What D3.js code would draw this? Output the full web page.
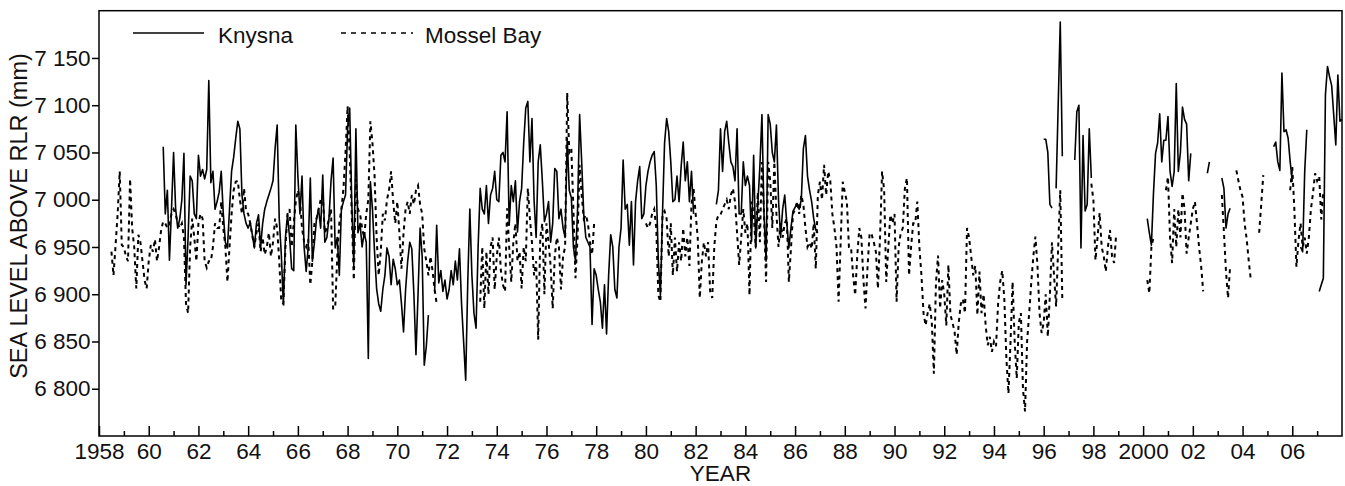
<!DOCTYPE html>
<html lang="en">
    <head>
        <meta charset="utf-8">
        <title>Sea level above RLR - Knysna and Mossel Bay</title>
        <script type="text/javascript" src="https://d3js.org/d3.v7.min.js"></script>
        <style type="text/css">
            body { margin: 0; background: #fff; }
            text { font-family: "Liberation Sans", Arial, sans-serif; fill: #111; }
        </style>
    </head>
    <body>
        <script type="text/javascript">

        //consts / layout
        const width = 1345;
        const height = 486;
        const plotLeft = 99, plotRight = 1342, plotTop = 10.7, plotBottom = 436;
        const fontSize = 22.5;

        //Data - monthly means (mm), one row of 12 months per year, null = no data
        const _ = null;
        const startYear = 1958;

        const knysna = [
            [_,_,_,_,_,_,_,_,_,_,_,_],                                         //1958
            [_,_,_,_,_,_,_,_,_,_,_,_],                                         //1959
            [_,_,_,_,_,_,_,7056,6985,7010,6936,6990],                          //1960
            [7050,6990,6970,6980,7000,7049,6910,6960,7025,7020,6985,6980],     //1961
            [7047,7025,7032,7022,7032,7126,7018,7030,6990,6998,7008,7030],     //1962
            [6985,6955,6949,6990,7030,7045,7065,7083,7075,7005,6985,6975],     //1963
            [6970,6976,6963,6949,6975,6984,6950,6975,6990,6998,7005,7012],     //1964
            [7020,7054,7079,6980,6942,6889,6960,6984,6960,6927,6925,7079],     //1965
            [7025,6985,7025,6950,6924,6950,7023,6935,6955,6980,6990,6970],     //1966
            [7026,6955,6960,6980,7020,7044,6949,6960,6920,6990,6998,7005],     //1967
            [7075,7097,6998,6930,7075,6965,6975,6950,6965,6955,6832,7019],     //1968
            [6990,6945,6906,6890,6882,6905,6920,6949,6940,6910,6937,6927],     //1969
            [6910,6915,6890,6860,6905,6935,6955,6948,6900,6836,6900,6970],     //1970
            [6940,6825,6845,6878,_,_,6903,6973,6912,6925,6903,6915],           //1971
            [6895,6905,6925,6910,6935,6915,6948,6890,6850,6809,6913,6990],     //1972
            [6920,6880,6864,6950,7012,6990,6985,7015,6975,7005,7012,7030],     //1973
            [7000,6998,7047,7050,7040,7093,6973,7015,6998,7020,6966,6998],     //1974
            [7012,7060,7097,7104,7040,7086,7000,6960,7040,7058,7020,6977],     //1975
            [6985,6998,6955,6975,7033,7030,6980,6990,6970,6960,7065,7010],     //1976
            [7002,6950,6935,6990,7090,7040,6984,6960,6955,6950,6868,6927],     //1977
            [6920,6905,6892,6864,6910,6858,6920,6963,6950,6905,6896,6950],     //1978
            [6970,7042,6990,6995,6952,6998,6931,6998,7020,7035,6980,6985],     //1979
            [7015,7030,7040,7047,7051,7015,6935,6899,6985,7060,7086,7072],     //1980
            [7040,6998,7000,7025,6998,7035,7061,7020,7040,6998,7030,6985],     //1981
            [_,_,_,_,_,_,_,_,_,_,6995,7010],                                   //1982
            [7075,7030,7072,7083,7060,7040,7035,7020,7075,6985,6985,7040],     //1983
            [7015,7025,7015,6956,7047,6949,6995,7035,7090,6985,6935,7090],     //1984
            [7080,7050,7040,7079,7000,6960,6990,7005,6975,6949,6970,6988],     //1985
            [6992,6996,6990,7000,7054,7068,7025,7010,6998,6980,6968,6965],     //1986
            [_,_,_,_,_,_,_,_,_,_,_,_],                                         //1987
            [_,_,_,_,_,_,_,_,_,_,_,_],                                         //1988
            [_,_,_,_,_,_,_,_,_,_,_,_],                                         //1989
            [_,_,_,_,_,_,_,_,_,_,_,_],                                         //1990
            [_,_,_,_,_,_,_,_,_,_,_,_],                                         //1991
            [_,_,_,_,_,_,_,_,_,_,_,_],                                         //1992
            [_,_,_,_,_,_,_,_,_,_,_,_],                                         //1993
            [_,_,_,_,_,_,_,_,_,_,_,_],                                         //1994
            [_,_,_,_,_,_,_,_,_,_,_,_],                                         //1995
            [7064,7064,7050,6995,6991,_,7012,7100,7188,7046,_,_],              //1996
            [_,_,_,7042,7093,7100,6949,7068,6988,6995,7075,7023],              //1997
            [_,_,_,_,_,_,_,_,_,_,_,_],                                         //1998
            [_,_,_,_,_,_,_,_,_,_,_,_],                                         //1999
            [_,_,6980,6965,6952,7007,7049,7060,7091,7040,7063,7063],           //2000
            [7088,7030,7014,7030,7123,7030,7050,7098,7085,7080,7020,7049],     //2001
            [_,_,_,_,_,_,_,7028,7040,_,_,_],                                   //2002
            [_,_,7023,7012,6970,6985,6991,_,_,_,_,_],                          //2003
            [_,_,_,_,_,_,_,_,_,_,_,_],                                         //2004
            [_,_,_,7056,7061,7040,7031,7134,7072,7074,7065,7040],              //2005
            [7019,_,_,_,6950,6945,7030,7074,_,_,_,_],                          //2006
            [_,6903,6910,6917,7111,7141,7130,7121,7090,7058,7132,7083],        //2007
            [7085]                                                             //2008
        ];

        const mosselBay = [
            [_,_,_,_,_,_,6945,6920,6952,6985,7030,6952],                       //1958
            [6950,6940,6935,7022,6970,6950,6906,6963,6955,6935,6915,6906],     //1959
            [6935,6952,6945,6958,6935,6950,6968,6977,6975,6970,6975,6985],     //1960
            [6990,6985,6975,6970,6975,6960,6890,6880,6950,6980,6960,6935],     //1961
            [6975,6985,6980,6935,6928,6935,6935,6950,6975,6970,6970,6998],     //1962
            [6970,6950,6913,6950,6985,7010,7019,7020,7000,6985,7012,6988],     //1963
            [6985,6975,6962,6950,6965,6975,6945,6960,6942,6950,6965,6940],     //1964
            [6955,6980,6970,6935,6892,6890,6950,6985,6990,6950,6975,6998],     //1965
            [7010,7000,6970,6955,6950,6958,6910,6935,6975,6980,6990,7000],     //1966
            [7005,6965,6970,6980,6990,6885,6885,6940,6975,6990,7012,7050],     //1967
            [7099,7050,6985,6915,7022,6990,6985,6970,6960,6985,7000,7083],     //1968
            [7060,7026,6960,6920,6945,6985,6978,7000,7010,7030,6998,6975],     //1969
            [6998,6965,6927,6965,6990,6998,6985,7005,6995,7010,7015,6995],     //1970
            [6985,6948,6935,6920,6940,6925,6905,6890,_,_,_,_],                 //1971
            [_,_,_,_,_,_,_,_,_,_,_,_],                                         //1972
            [_,_,_,_,6892,6950,6885,6945,6900,6950,6960,6905],                 //1973
            [6940,6960,6925,6910,6903,6991,6950,6913,6955,6975,6935,6945],     //1974
            [6906,6950,6935,7012,6980,6955,6920,6935,6852,6960,6975,6900],     //1975
            [6975,6955,6930,6885,6940,6960,6950,6905,6940,6950,7113,7050],     //1976
            [7054,6990,6917,6960,7037,7005,6980,6984,6975,6955,6942,6975],     //1977
            [_,_,_,_,_,_,_,_,_,_,_,_],                                         //1978
            [_,_,_,_,_,_,_,_,_,_,_,_],                                         //1979
            [6975,6970,6975,6985,6990,6970,6899,6892,6984,6988,6980,6940],     //1980
            [6975,6920,6960,6924,6955,6935,6970,6940,6960,6930,6995,7012],     //1981
            [6985,6960,6896,6935,6955,6940,6955,6903,6896,6950,6977,6984],     //1982
            [6984,6990,6995,7000,6990,7005,7012,6998,6965,6931,6960,6990],     //1983
            [6965,6975,6899,6998,6985,6950,7008,6955,7040,6985,6913,7040],     //1984
            [7020,6970,7040,6985,6950,6975,6960,6975,6980,6913,6948,6985],     //1985
            [6990,6998,6985,7005,6995,6970,6950,6955,6948,6975,6927,7005],     //1986
            [7019,7000,7037,7005,7030,7020,6985,6970,6950,6892,6955,7019],     //1987
            [7008,6998,6950,6950,6920,6899,6940,6970,6960,6915,6885,6930],     //1988
            [6965,6963,6955,6945,6906,6960,7030,7010,6913,6950,6984,6975],     //1989
            [6985,6892,6950,6965,6970,7012,7023,6920,6950,6975,6975,6998],     //1990
            [6950,6920,6880,6867,6880,6890,6870,6816,6912,6941,6885,6915],     //1991
            [6900,6867,6931,6878,6870,6860,6836,6870,6890,6895,6880,6970],     //1992
            [6960,6940,6920,6930,6878,6924,6880,6900,6867,6846,6855,6839],     //1993
            [6850,6845,6890,6913,6925,6895,6832,6795,6850,6913,6850,6811],     //1994
            [6870,6880,6800,6776,6850,6880,6912,6940,6961,6930,6880,6859],     //1995
            [6870,6900,6855,6900,6955,6920,6887,6950,7010,6894,_,_],           //1996
            [_,_,_,_,_,_,_,_,_,_,_,7017],                                      //1997
            [7000,6936,6960,6986,6950,6940,6924,6950,6968,6940,6933,6964],     //1998
            [_,_,_,_,_,_,_,_,_,_,_,_],                                         //1999
            [_,_,6915,6901,6950,6960,_,_,_,_,_,7010],                          //2000
            [7024,6960,6933,6990,6950,6990,6960,7007,6990,6943,6960,6975],     //2001
            [6990,6998,6975,6950,6930,6903,_,_,_,_,_,_],                       //2002
            [_,_,7005,6966,6924,6896,6930,_,_,7031,7020,7010],                 //2003
            [7003,6975,6958,6935,6915,_,_,_,6965,6995,7026,_],                 //2004
            [_,_,_,_,_,_,_,_,_,_,_,7010],                                      //2005
            [7035,6990,6929,6957,6975,6950,6960,6943,6960,6990,7007,7028],     //2006
            [7020,7025,6979,7010,_,_,_,_,_,_,_,_]                              //2007
        ];

        //tick labels
        const yTicks = [6800, 6850, 6900, 6950, 7000, 7050, 7100, 7150];
        const xMajor = [1958, 1960, 1962, 1964, 1966, 1968, 1970, 1972, 1974, 1976, 1978, 1980,
                        1982, 1984, 1986, 1988, 1990, 1992, 1994, 1996, 1998, 2000, 2002, 2004, 2006];
        const xMinor = [1959, 1961, 1963, 1965, 1967, 1969, 1971, 1973, 1975, 1977, 1979, 1981,
                        1983, 1985, 1987, 1989, 1991, 1993, 1995, 1997, 1999, 2001, 2003, 2005, 2007];
        const seriesNames = ["Knysna", "Mossel Bay"];

        //rows -> points
        function toPoints(rows) {
            const pts = [];
            rows.forEach((row, i) => {
                row.forEach((v, m) => pts.push({ t: startYear + i + m / 12, v: v }));
            });
            return pts;
        }

        //Scales
        const xScale = d3.scaleLinear()
                        .domain([1958, 2008])
                        .range([plotLeft, plotRight]);

        const yScale = d3.scaleLinear()
                        .domain([6750, 7200])
                        .range([plotBottom, plotTop]);

        //SVG
        const svg = d3.select("body")
                    .append("svg")
                    .attr("width", width)
                    .attr("height", height);

        const line = d3.line()
                    .defined(d => d.v !== null)
                    .x(d => xScale(d.t))
                    .y(d => yScale(d.v));

        //Lines (Mossel Bay first, Knysna on top)
        svg.append("path")
            .datum(toPoints(mosselBay))
            .attr("d", line)
            .attr("fill", "none")
            .attr("stroke", "#000")
            .attr("stroke-width", 2)
            .attr("stroke-dasharray", "4,4");

        svg.append("path")
            .datum(toPoints(knysna))
            .attr("d", line)
            .attr("fill", "none")
            .attr("stroke", "#000")
            .attr("stroke-width", 1.6)
            .attr("stroke-linejoin", "round");

        //Axes
        const xAxis = svg.append("g")
            .attr("transform", "translate(0," + plotBottom + ")")
            .call(d3.axisBottom(xScale)
                    .tickValues(xMajor)
                    .tickSize(-10)
                    .tickPadding(7)
                    .tickFormat(d => (d === 1958 || d === 2000) ? String(d) : String(d).slice(2)));

        const xMinorAxis = svg.append("g")
            .attr("transform", "translate(0," + plotBottom + ")")
            .call(d3.axisBottom(xScale)
                    .tickValues(xMinor)
                    .tickSize(-5)
                    .tickFormat(""));

        const yAxis = svg.append("g")
            .attr("transform", "translate(" + plotLeft + ",0)")
            .call(d3.axisLeft(yScale)
                    .tickValues(yTicks)
                    .tickSize(7)
                    .tickPadding(1.5)
                    .tickFormat(d => String(d).replace(/^(\d)(\d{3})$/, "$1 $2")));

        [xAxis, xMinorAxis, yAxis].forEach(g => {
            g.select(".domain").remove();
            g.selectAll("line").attr("stroke", "#000").attr("stroke-width", 1.5);
            g.selectAll("text").attr("font-size", fontSize).attr("fill", "#111")
             .style("font-family", "'Liberation Sans', Arial, sans-serif");
        });

        //Frame
        svg.append("rect")
            .attr("x", plotLeft)
            .attr("y", plotTop)
            .attr("width", plotRight - plotLeft)
            .attr("height", plotBottom - plotTop)
            .attr("fill", "none")
            .attr("stroke", "#000")
            .attr("stroke-width", 1.5);

        //Axis titles
        svg.append("text")
            .attr("x", (plotLeft + plotRight) / 2)
            .attr("y", 481)
            .attr("text-anchor", "middle")
            .attr("font-size", fontSize)
            .text("YEAR");

        svg.append("text")
            .attr("transform", "translate(27,216) rotate(-90)")
            .attr("text-anchor", "middle")
            .attr("font-size", 23.5)
            .text("SEA LEVEL ABOVE RLR (mm)");

        //Legend
        const legend = svg.append("g");
        legend.append("line")
            .attr("x1", 133).attr("x2", 204).attr("y1", 33).attr("y2", 33)
            .attr("stroke", "#000").attr("stroke-width", 1.6);
        legend.append("text")
            .attr("x", 218).attr("y", 42.5)
            .attr("font-size", fontSize)
            .text(seriesNames[0]);
        legend.append("line")
            .attr("x1", 341).attr("x2", 413).attr("y1", 33).attr("y2", 33)
            .attr("stroke", "#000").attr("stroke-width", 1.6)
            .attr("stroke-dasharray", "5,5");
        legend.append("text")
            .attr("x", 425).attr("y", 42.5)
            .attr("font-size", fontSize)
            .text(seriesNames[1]);

        </script>
    </body>
</html>
